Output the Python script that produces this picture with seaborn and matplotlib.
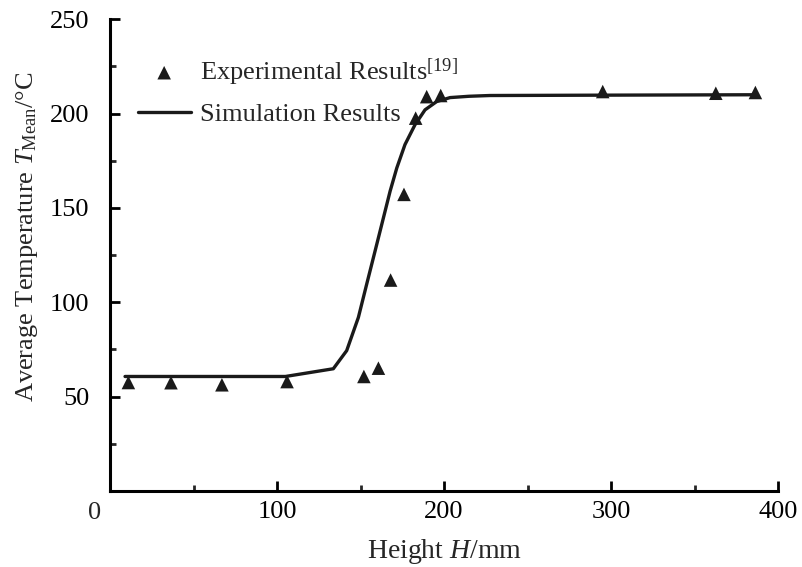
import numpy as np
import pandas as pd
import matplotlib
matplotlib.use("Agg")
import matplotlib.pyplot as plt
import seaborn as sns
from matplotlib.ticker import MultipleLocator

exp_h = [11, 36.5, 67, 106, 152, 160.7, 168, 176, 183, 189.6, 198, 295, 362.7, 386.4]
exp_t = [57.5, 57.4, 56.3, 58, 60.7, 65.1, 111.8, 157.2, 197.6, 209, 209.6, 211.7, 210.8, 211.2]

# curva de simulacao
sim_h = [9, 60, 105, 133.7, 141.7, 148.7, 153.7, 158.7, 163.7, 167.7, 171.7, 176.6,
         182.6, 188.6, 195.6, 203.6, 215, 227.5, 300, 386.4]
sim_t = [60.7, 60.7, 60.7, 64.8, 74.4, 92, 109.7, 127.2, 144.8, 158.9, 171.2, 183.6,
         194.1, 202, 206.4, 208.5, 209.2, 209.6, 209.8, 210]

df_exp = pd.DataFrame({"H": exp_h, "T": exp_t})
df_sim = pd.DataFrame({"H": sim_h, "T": sim_t})

sns.set_theme(style="ticks")
plt.rcParams["font.family"] = ["Liberation Serif", "DejaVu Serif"]
plt.rcParams["mathtext.fontset"] = "custom"
plt.rcParams["mathtext.rm"] = "Liberation Serif"
plt.rcParams["mathtext.it"] = "Liberation Serif:italic"

fig = plt.figure(figsize=(8.03, 5.67), dpi=100)
ax = fig.add_axes([0.137, 0.134, 0.832, 0.832])

sns.scatterplot(data=df_exp, x="H", y="T", marker="^", s=95, color="#1a1a1a",
                edgecolor="none", ax=ax, label="Experimental Results$^{[19]}$", zorder=3)
sns.lineplot(data=df_sim, x="H", y="T", color="#1a1a1a", linewidth=2.4,
             ax=ax, label="Simulation Results", sort=False)

ax.set_xlim(0, 400)
ax.set_ylim(0, 250)
ax.set_xticks([100, 200, 300, 400])
ax.xaxis.set_minor_locator(MultipleLocator(50))
ax.set_yticks([50, 100, 150, 200, 250])
ax.set_yticks([25, 75, 125, 175, 225], minor=True)

for s in ["top", "right"]:
    ax.spines[s].set_visible(False)
for s in ["left", "bottom"]:
    ax.spines[s].set_linewidth(2.2)
    ax.spines[s].set_color("black")

ax.tick_params(which="major", direction="in", length=7, width=2, labelsize=19, colors="black")
ax.tick_params(which="minor", direction="in", length=4, width=2)
ax.tick_params(axis="x", pad=7)
ax.tick_params(axis="y", pad=15)

ax.set_xlabel("Height $H$/mm", fontsize=20)
ax.set_ylabel("Average Temperature $T_{\\mathrm{Mean}}$/°C", fontsize=19)
ax.xaxis.set_label_coords(0.5, -0.097)
ax.yaxis.set_label_coords(-0.105, 0.54)

# 0 do canto, fora do eixo
fig.text(0.118, 0.095, "0", fontsize=19, ha="center", va="center")

leg = ax.legend(loc="upper left", bbox_to_anchor=(0.006, 0.972), frameon=False,
                fontsize=19, handlelength=2.0, handletextpad=0.35, labelspacing=0.57)

fig.savefig("out.png", dpi=100, facecolor="white")
